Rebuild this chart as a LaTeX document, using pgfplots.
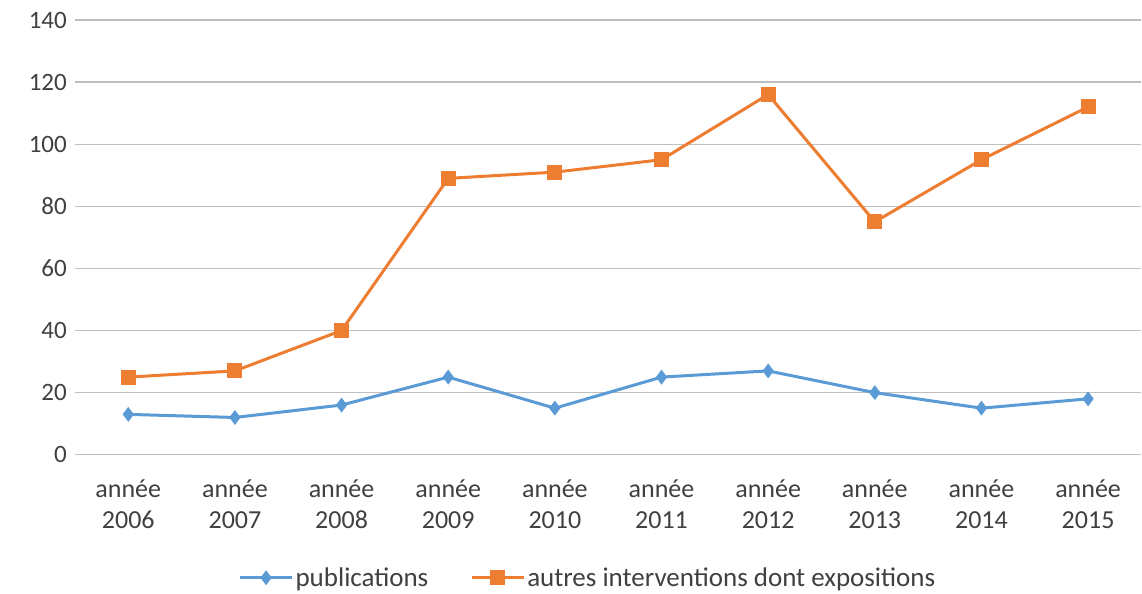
\documentclass[border=0pt]{standalone}
\usepackage{fontspec}
\setmainfont{Carlito}
\usepackage{pgfplots}
\pgfplotsset{compat=1.18}
\definecolor{cblue}{HTML}{5B9BD5}
\definecolor{corange}{HTML}{ED7D31}
\definecolor{cgrid}{HTML}{BFBFBF}
\definecolor{ctext}{HTML}{404040}
\begin{document}
\begin{tikzpicture}[x=1pt,y=1pt]
\begin{axis}[
  name=ax,
  scale only axis,
  width=1067pt, height=435pt,
  xmin=-0.5, xmax=9.5,
  ymin=0, ymax=140,
  ytick={0,20,...,140},
  xtick={0,...,9},
  xticklabels={{année\\2006},{année\\2007},{année\\2008},{année\\2009},{année\\2010},{année\\2011},{année\\2012},{année\\2013},{année\\2014},{année\\2015}},
  xticklabel style={align=center, font=\fontsize{26}{31}\selectfont, text=ctext, inner sep=2pt, yshift=-23pt},
  yticklabel style={font=\fontsize{25}{28}\selectfont, text=ctext, inner sep=2pt, xshift=-6pt},
  /pgf/number format/assume math mode=true,
  axis line style={draw=none},
  tick style={draw=none},
  ymajorgrids,
  grid style={cgrid, line width=1.2pt},
  legend columns=2,
  legend style={draw=none, at={(0.481,-0.283)}, anchor=center, font=\fontsize{27}{30}\selectfont, text=ctext, inner sep=0pt, /tikz/every even column/.append style={column sep=40pt}},
  legend image code/.code={\draw[#1, mark repeat=2, mark phase=2] plot coordinates {(0pt,0pt) (26pt,0pt) (52pt,0pt)};},
]
\addplot[cblue, line width=3pt, mark=diamond*, mark size=5pt, mark options={solid, fill=cblue}] coordinates {
(0,13) (1,12) (2,16) (3,25) (4,15) (5,25) (6,27) (7,20) (8,15) (9,18)};
\addlegendentry{publications}
\addplot[corange, line width=3pt, mark=square*, mark size=6pt, mark options={solid, fill=corange}] coordinates {
(0,25) (1,27) (2,40) (3,89) (4,91) (5,95) (6,116) (7,75) (8,95) (9,112)};
\addlegendentry{autres interventions dont expositions}
\end{axis}
\path (ax.south west) ++(-75pt,-139pt) coordinate (bl);
\path (ax.north east) ++(0pt,20pt) coordinate (tr);
\path[draw=none] (bl) rectangle (tr);
\end{tikzpicture}
\end{document}
